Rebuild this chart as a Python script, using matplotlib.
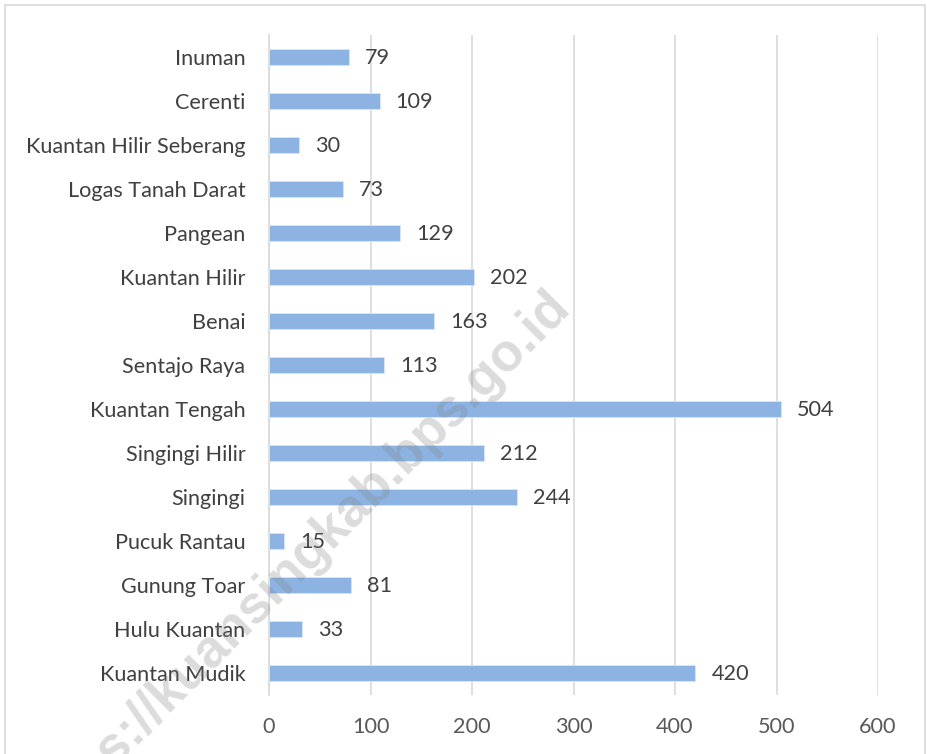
import matplotlib
matplotlib.use("Agg")
from matplotlib import pyplot as plt
from matplotlib.patches import Rectangle

# kecamatan, ordered top to bottom as in the chart
districts = ['Inuman', 'Cerenti', 'Kuantan Hilir Seberang', 'Logas Tanah Darat',
             'Pangean', 'Kuantan Hilir', 'Benai', 'Sentajo Raya', 'Kuantan Tengah',
             'Singingi Hilir', 'Singingi', 'Pucuk Rantau', 'Gunung Toar',
             'Hulu Kuantan', 'Kuantan Mudik']
values = [79, 109, 30, 73, 129, 202, 163, 113, 504, 212, 244, 15, 81, 33, 420]
xticks = [0, 100, 200, 300, 400, 500, 600]

W, H = 928, 754
fig = plt.figure(figsize=(W / 100, H / 100), dpi=100)
plt.rcParams['font.family'] = ['Lato', 'DejaVu Sans']

# chart border
fig.patches.append(Rectangle((5 / W, -0.05), 920 / W, 1.05 - 5 / H,
                             transform=fig.transFigure, fill=False,
                             edgecolor='#d9d9d9', linewidth=1.2))

ax = fig.add_axes([269 / W, 1 - 695 / H, (878 - 269) / W, (695 - 35) / H])
ypos = list(range(len(districts)))
ax.barh(ypos, values, height=0.36, color='#8db3e2', edgecolor='#dce6f2',
        linewidth=0.6, zorder=3)
for y, v in zip(ypos, values):
    ax.annotate(str(v), (v, y), xytext=(16, -1), textcoords='offset pixels',
                ha='left', va='center', fontsize=15.6, color='#404040')

ax.set_ylim(len(districts) - 0.5, -0.5)
ax.set_xlim(0, 600)
ax.set_xticks(xticks)
ax.set_xticklabels([str(t) for t in xticks])
ax.set_yticks(ypos)
ax.set_yticklabels(districts)
ax.tick_params(axis='both', length=0, labelsize=15.6, labelcolor='#595959')
ax.tick_params(axis='y', pad=17, labelcolor='#404040')
ax.tick_params(axis='x', pad=16)
ax.grid(axis='x', color='#d9d9d9', linewidth=1.2, zorder=0)
for s in ['top', 'right', 'bottom']:
    ax.spines[s].set_visible(False)
ax.spines['left'].set_color('#d9d9d9')
ax.spines['left'].set_linewidth(1.2)

# watermark
fig.text(298 / W, 1 - 562 / H, 'https://kuansingkab.bps.go.id', rotation=45,
         ha='center', va='center', fontsize=38, fontweight='bold',
         family=['Liberation Sans', 'DejaVu Sans'],
         color='#808080', alpha=0.28, zorder=10)

fig.savefig('out.png', dpi=100)
